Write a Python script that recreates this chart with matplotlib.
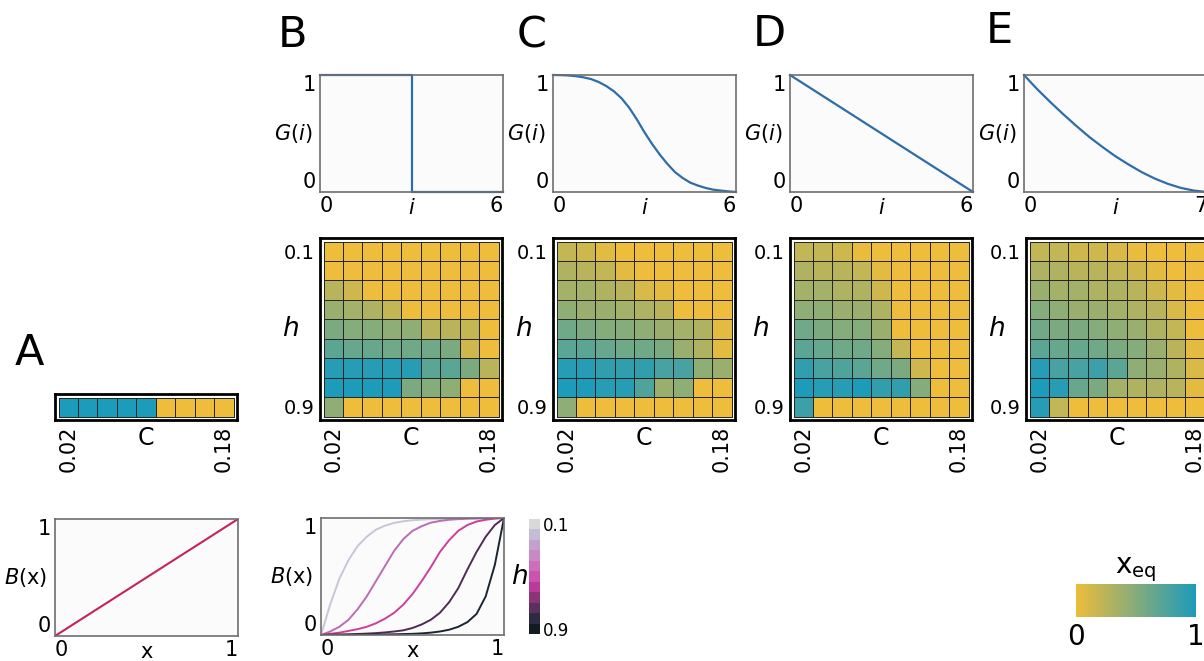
import numpy as np
import matplotlib
matplotlib.use("Agg")
import matplotlib.pyplot as plt
from matplotlib.colors import LinearSegmentedColormap, ListedColormap

# =========================================================
# DATA
# =========================================================

C_TICKS = ["0.02", "0.18"]
H_TICKS = ["0.1", "0.9"]

# panel A: single row of x_eq over C
XEQ_A = [1, 1, 1, 1, 1, 0, 0, 0, 0]

# x_eq grids, rows h = 0.1 .. 0.9 (top to bottom), cols C = 0.02 .. 0.18
XEQ_B = [
    [0, 0, 0, 0, 0, 0, 0, 0, 0],
    [0, 0, 0, 0, 0, 0, 0, 0, 0],
    [0.25, 0.15, 0, 0, 0, 0, 0, 0, 0],
    [0.4, 0.35, 0.3, 0.2, 0, 0, 0, 0, 0],
    [0.55, 0.5, 0.5, 0.45, 0.45, 0.25, 0.25, 0.2, 0],
    [0.7, 0.65, 0.65, 0.6, 0.6, 0.6, 0.55, 0.15, 0],
    [0.95, 0.95, 0.95, 0.95, 0.95, 0.7, 0.7, 0.55, 0.25],
    [1.0, 1.0, 1.0, 1.0, 0.55, 0.5, 0.45, 0, 0],
    [0.45, 0, 0, 0, 0, 0, 0, 0, 0],
]
XEQ_C = [
    [0.2, 0.15, 0.05, 0, 0, 0, 0, 0, 0],
    [0.3, 0.25, 0.2, 0.05, 0, 0, 0, 0, 0],
    [0.35, 0.35, 0.3, 0.25, 0.1, 0.05, 0, 0, 0],
    [0.45, 0.4, 0.4, 0.35, 0.3, 0.25, 0, 0, 0],
    [0.6, 0.55, 0.5, 0.5, 0.45, 0.4, 0.35, 0.3, 0.05],
    [0.7, 0.7, 0.65, 0.6, 0.6, 0.55, 0.4, 0.3, 0.05],
    [0.95, 0.95, 0.9, 0.9, 0.9, 0.8, 0.8, 0.45, 0.4],
    [1.0, 1.0, 0.95, 0.95, 0.75, 0.4, 0.45, 0, 0],
    [0.45, 0, 0, 0, 0, 0, 0, 0, 0],
]
XEQ_D = [
    [0.2, 0.2, 0.15, 0.02, 0, 0, 0, 0, 0],
    [0.3, 0.25, 0.25, 0.2, 0.05, 0, 0, 0, 0],
    [0.35, 0.35, 0.3, 0.3, 0.15, 0, 0, 0, 0],
    [0.45, 0.45, 0.4, 0.4, 0.3, 0, 0, 0, 0],
    [0.6, 0.55, 0.5, 0.5, 0.4, 0, 0, 0, 0],
    [0.7, 0.65, 0.6, 0.6, 0.5, 0.2, 0, 0, 0],
    [0.9, 0.8, 0.75, 0.7, 0.6, 0.55, 0.15, 0, 0],
    [1.0, 0.95, 0.95, 1.0, 0.9, 0.9, 0.5, 0, 0],
    [0.85, 0, 0, 0, 0, 0, 0, 0, 0],
]
XEQ_E = [
    [0.2, 0.2, 0.15, 0.15, 0.1, 0.02, 0, 0, 0],
    [0.3, 0.3, 0.25, 0.25, 0.2, 0.15, 0.05, 0, 0],
    [0.4, 0.35, 0.35, 0.3, 0.3, 0.25, 0.15, 0.05, 0],
    [0.5, 0.45, 0.4, 0.4, 0.35, 0.3, 0.25, 0.1, 0],
    [0.6, 0.55, 0.55, 0.5, 0.45, 0.4, 0.3, 0.2, 0],
    [0.7, 0.65, 0.65, 0.6, 0.55, 0.5, 0.4, 0.25, 0.05],
    [0.95, 0.8, 0.8, 0.85, 0.7, 0.45, 0.4, 0.3, 0.1],
    [1.0, 0.95, 0.65, 0.55, 0.35, 0.3, 0.3, 0.25, 0.05],
    [0.95, 0.2, 0, 0, 0, 0, 0, 0, 0],
]

# G(i) curves
I_B = [0, 3, 3, 6]
G_B = [1, 1, 0, 0]
I_C = [0, 0.25, 0.5, 0.75, 1, 1.25, 1.5, 1.75, 2, 2.25, 2.5, 2.75, 3,
       3.25, 3.5, 3.75, 4, 4.25, 4.5, 4.75, 5, 5.25, 5.5, 5.75, 6]
G_C = [1.0, 0.999, 0.996, 0.99, 0.98, 0.965, 0.94, 0.905, 0.86, 0.8, 0.72, 0.62, 0.51,
       0.41, 0.32, 0.24, 0.17, 0.12, 0.08, 0.055, 0.035, 0.02, 0.012, 0.005, 0.0]
I_D = [0, 6]
G_D = [1, 0]
I_E = [0, 0.5, 1, 1.5, 2, 2.5, 3, 3.5, 4, 4.5, 5, 5.5, 6, 6.5, 7]
G_E = [1.0, 0.88, 0.77, 0.665, 0.565, 0.47, 0.385, 0.305, 0.235, 0.17, 0.115, 0.07,
       0.035, 0.012, 0.0]

# B(x) curves
X_A = [0, 1]
B_A = [0, 1]
X_B = [0, 0.05, 0.1, 0.15, 0.2, 0.25, 0.3, 0.35, 0.4, 0.45, 0.5,
       0.55, 0.6, 0.65, 0.7, 0.75, 0.8, 0.85, 0.9, 0.95, 1.0]
B_H01 = [0, 0.26, 0.48, 0.64, 0.76, 0.84, 0.9, 0.935, 0.958, 0.972, 0.981,
         0.986, 0.99, 0.992, 0.994, 0.995, 0.996, 0.997, 0.998, 0.999, 1.0]
B_H03 = [0, 0.03, 0.07, 0.13, 0.22, 0.33, 0.46, 0.59, 0.72, 0.82, 0.89,
         0.93, 0.96, 0.975, 0.985, 0.99, 0.994, 0.996, 0.998, 0.999, 1.0]
B_H05 = [0, 0.01, 0.02, 0.035, 0.05, 0.07, 0.1, 0.14, 0.19, 0.26, 0.35,
         0.46, 0.58, 0.71, 0.81, 0.89, 0.94, 0.97, 0.985, 0.995, 1.0]
B_H07 = [0, 0.002, 0.004, 0.006, 0.009, 0.012, 0.016, 0.022, 0.03, 0.04, 0.06,
         0.09, 0.13, 0.19, 0.28, 0.4, 0.56, 0.71, 0.84, 0.94, 1.0]
B_H09 = [0, 0.001, 0.001, 0.002, 0.002, 0.003, 0.004, 0.005, 0.006, 0.008, 0.01,
         0.014, 0.02, 0.03, 0.045, 0.07, 0.11, 0.18, 0.33, 0.6, 1.0]
B_CURVES = [B_H01, B_H03, B_H05, B_H07, B_H09]
B_COLORS = ["#c9c5da", "#bb6cb4", "#cc3f9c", "#4f2a55", "#1b2533"]

H_BAR_COLORS = ["#d9d9d9", "#c2bed6", "#c2a2cc", "#c78ac5", "#cb6fbd", "#cc52ad",
                "#b93b97", "#8c3478", "#5d2f5f", "#2d2b41", "#121a22"]
H_BAR_LEVELS = list(range(len(H_BAR_COLORS)))

# =========================================================
# STYLE
# =========================================================

W, H = 1204, 661
YELLOW = "#edbd3b"
TEAL = "#1d9bbb"
BLUE = "#2f6da8"
SPINE = "#6e6e6e"
XEQ_CMAP = LinearSegmentedColormap.from_list("xeq", [YELLOW, TEAL])

plt.rcParams["font.family"] = ["DejaVu Sans"]
plt.rcParams["mathtext.fontset"] = "dejavusans"

fig = plt.figure(figsize=(W / 100, H / 100), dpi=100)


def box(x0, y0, x1, y1):
    return [x0 / W, 1 - y1 / H, (x1 - x0) / W, (y1 - y0) / H]


def curve_panel(x0, y0, xmax, ylab, xlab, tick_size=15):
    w, h = 183, 117
    ax = fig.add_axes(box(x0, y0, x0 + w, y0 + h))
    ax.set_facecolor("#fbfbfb")
    ax.set_xlim(0, xmax)
    ax.set_ylim(0, 1)
    ax.set_xticks([0, xmax], ["0", f"{xmax:g}"])
    ax.set_yticks([0, 1], ["0", "1"])
    ax.tick_params(length=0, labelsize=tick_size, pad=3)
    xl = ax.get_xticklabels()
    xl[0].set_ha("left")
    xl[1].set_ha("right")
    yl = ax.get_yticklabels()
    yl[0].set_va("bottom")
    yl[1].set_va("top")
    for s in ax.spines.values():
        s.set_color(SPINE)
        s.set_linewidth(1.2)
    ax.text(-8 / w, 0.5, ylab, transform=ax.transAxes, ha="right", va="center", fontsize=15)
    ax.text(0.5, -16 / h, xlab, transform=ax.transAxes, ha="center", va="center", fontsize=15)
    return ax


def heat_panel(x0, y0, data, with_h=True):
    data = np.array(data, dtype=float)
    nr, nc = data.shape
    pad = 0.18
    cell = 182 / (nc + 2 * pad)
    hh = cell * (nr + 2 * pad)
    ax = fig.add_axes(box(x0, y0, x0 + 182, y0 + hh))
    ax.pcolormesh(np.arange(nc + 1), np.arange(nr + 1), data, cmap=XEQ_CMAP,
                  vmin=0, vmax=1, edgecolors="#262626", linewidth=0.6)
    ax.set_xlim(-pad, nc + pad)
    ax.set_ylim(nr + pad, -pad)
    ax.set_xticks([0.5, nc - 0.5], C_TICKS, rotation=90, fontsize=15)
    if with_h:
        ax.set_yticks([0.5, nr - 0.5], H_TICKS, fontsize=14)
        ax.text(-30 / 182, 0.5, "h", transform=ax.transAxes, ha="center", va="center",
                fontsize=19, fontstyle="italic")
    else:
        ax.set_yticks([])
    ax.tick_params(length=0, pad=4)
    for s in ax.spines.values():
        s.set_color("black")
        s.set_linewidth(2.0)
    ax.text(0.5, -(18 / hh), "C", transform=ax.transAxes, ha="center", va="center", fontsize=17)
    return ax


# ---------------- G(i) row ----------------
G_LEFTS = [320, 553, 790, 1024]
G_DATA = [(I_B, G_B, 6), (I_C, G_C, 6), (I_D, G_D, 6), (I_E, G_E, 7)]
for x0, (ii, gg, imax) in zip(G_LEFTS, G_DATA):
    ax = curve_panel(x0, 75, imax, "$G(i)$", "$i$")
    ax.plot(ii, gg, color=BLUE, lw=1.6, clip_on=False)

# ---------------- heatmaps ----------------
for x0, grid in zip([320, 553, 790, 1026], [XEQ_B, XEQ_C, XEQ_D, XEQ_E]):
    heat_panel(x0, 238, grid)

heat_panel(55, 394, [XEQ_A], with_h=False)

# ---------------- B(x) panels ----------------
ax = curve_panel(55, 519, 1, r"$B(\mathrm{x})$", "x", tick_size=15)
ax.plot(X_A, B_A, color="#c3245e", lw=1.5)

ax = curve_panel(321, 518, 1, r"$B(\mathrm{x})$", "x", tick_size=15)
for yy, col in zip(B_CURVES, B_COLORS):
    ax.plot(X_B, yy, color=col, lw=1.4)

# h colour bar
cax = fig.add_axes(box(529, 519, 540, 634))
cax.imshow(np.array(H_BAR_LEVELS).reshape(-1, 1), cmap=ListedColormap(H_BAR_COLORS),
           aspect="auto", interpolation="nearest")
cax.set_xticks([])
cax.yaxis.tick_right()
cax.set_yticks([0, len(H_BAR_LEVELS) - 1], H_TICKS, fontsize=12)
cax.tick_params(length=0, pad=2)
for s in cax.spines.values():
    s.set_visible(False)
cax.text(-0.9, 0.5, "h", transform=cax.transAxes, ha="center", va="center",
         fontsize=19, fontstyle="italic")

# x_eq colour bar
xax = fig.add_axes(box(1076, 584, 1196, 617))
xax.imshow(np.linspace(0, 1, 256).reshape(1, -1), cmap=XEQ_CMAP, aspect="auto",
           extent=[0, 1, 0, 1])
xax.set_xticks([0, 1], ["0", "1"], fontsize=20)
xax.set_yticks([])
xax.tick_params(length=0, pad=4)
for s in xax.spines.values():
    s.set_visible(False)
xax.set_title(r"$\mathrm{x}_{\mathrm{eq}}$", fontsize=20, pad=6)

# ---------------- panel letters ----------------
for letter, (lx, ly) in zip("ABCDE", [(29, 365), (292, 47), (532, 47), (769, 46), (999, 43)]):
    fig.text(lx / W, 1 - ly / H, letter, ha="center", va="baseline", fontsize=31)

fig.savefig("out.png", dpi=100)
